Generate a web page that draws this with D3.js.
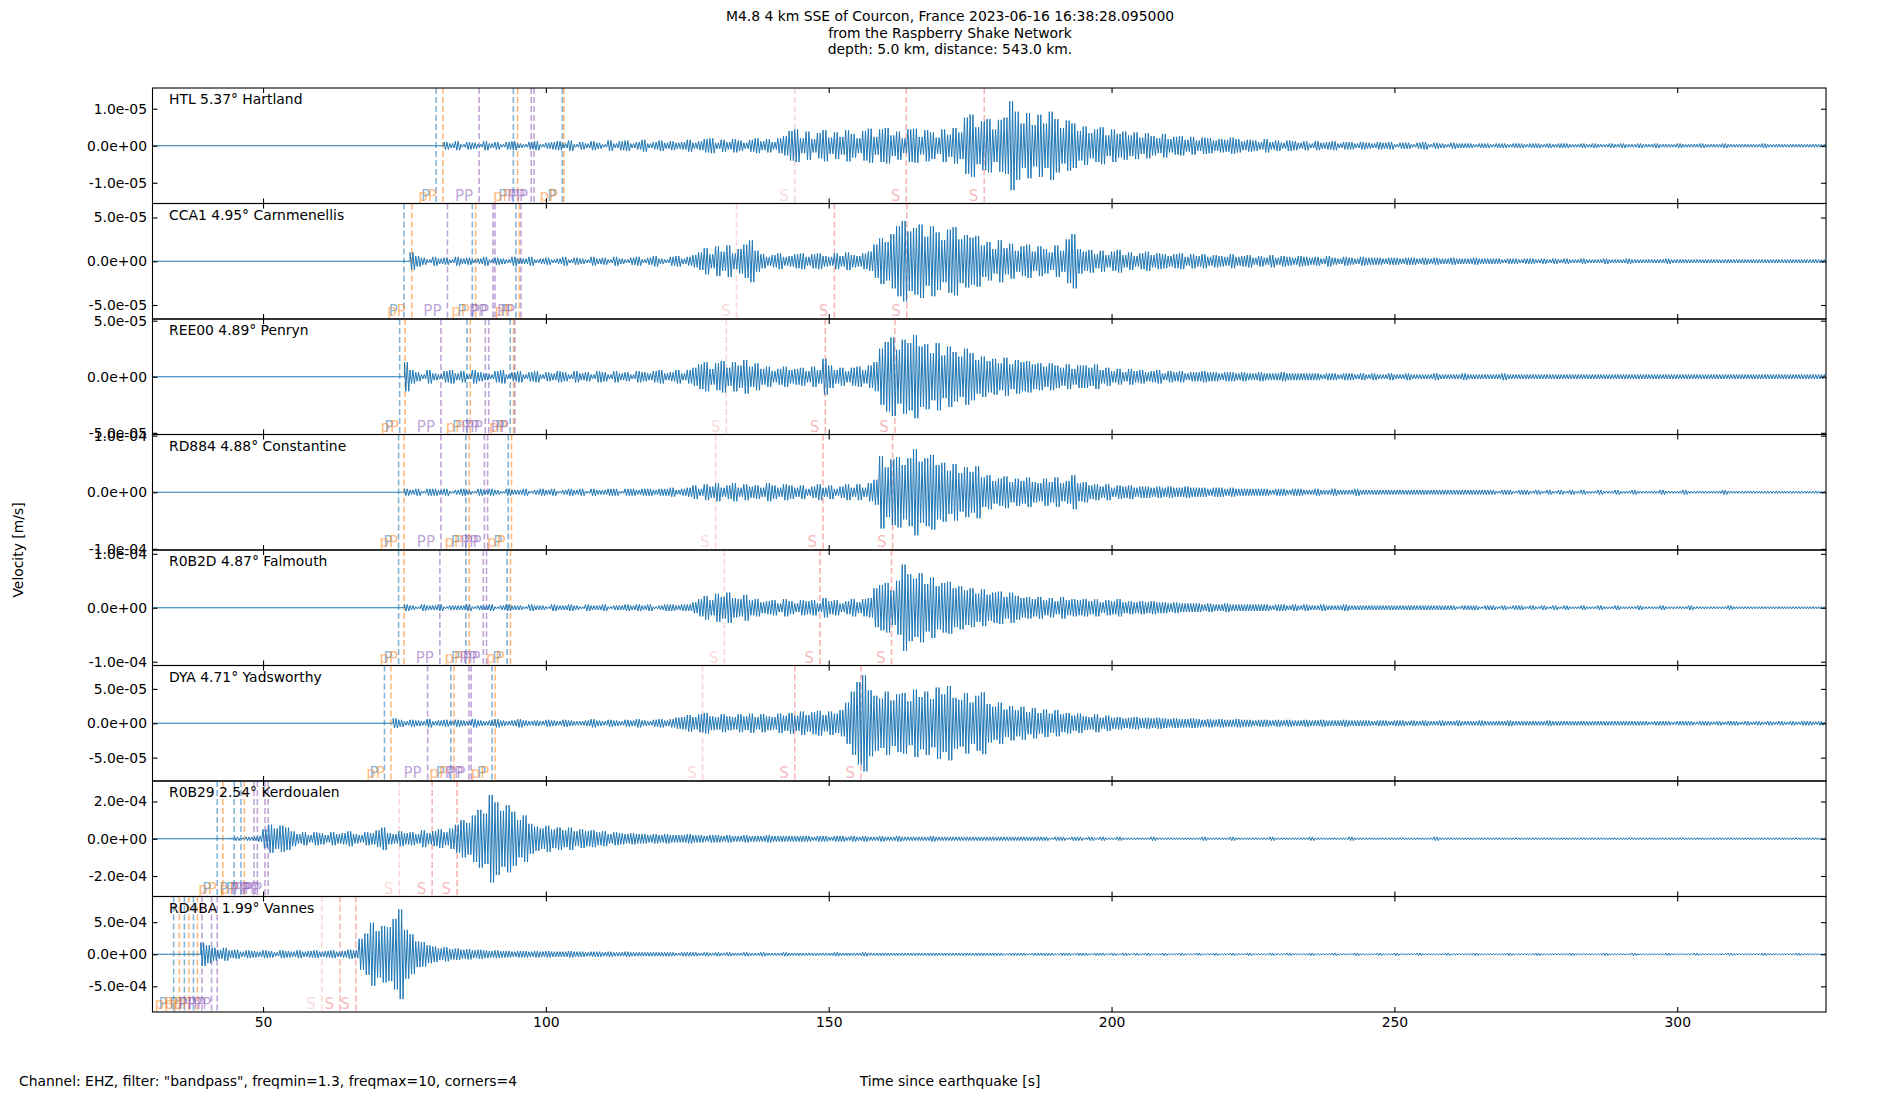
<!DOCTYPE html>
<html>
<head>
<meta charset="utf-8">
<script src="https://cdn.jsdelivr.net/npm/d3@7"></script>
<style>
	body { margin: 0; background: #fff; }
	svg text { font-family: "DejaVu Sans", sans-serif; }
</style>
</head>
<body>
<div id="chart"></div>
<script>

const titleLines = [
	"M4.8 4 km SSE of Courcon, France 2023-06-16 16:38:28.095000",
	"from the Raspberry Shake Network",
	"depth: 5.0 km, distance: 543.0 km."
];
const footNote = 'Channel: EHZ, filter: "bandpass", freqmin=1.3, freqmax=10, corners=4';

const stations = [
	"HTL 5.37° Hartland", "CCA1 4.95° Carnmenellis", "REE00 4.89° Penryn", "RD884 4.88° Constantine",
	"R0B2D 4.87° Falmouth", "DYA 4.71° Yadsworthy", "R0B29 2.54° Kerdoualen", "RD4BA 1.99° Vannes"
];

const timeRange = [30.46, 326.3];
const xTicks = [50, 100, 150, 200, 250, 300];

const yLimits = [1.56e-5, 6.6e-5, 5.15e-5, 1.02e-4, 1.07e-4, 8.4e-5, 3.1e-4, 9.0e-4];
const yTicks = [
	[-1e-5, 0, 1e-5], [-5e-5, 0, 5e-5], [-5e-5, 0, 5e-5], [-1e-4, 0, 1e-4],
	[-1e-4, 0, 1e-4], [-5e-5, 0, 5e-5], [-2e-4, 0, 2e-4], [-5e-4, 0, 5e-4]
];

// first second with signal, and size of one amplitude step (m/s)
const traceStart = [82, 76, 75, 75, 75, 73, 44, 39];
const ampUnit = [2e-7, 1e-6, 1e-6, 2e-6, 2e-6, 1e-6, 5e-6, 1e-5];

// peak amplitude per second, in ampUnit steps
const ampHTL = [
	5,3,6,2,5,4,2,6,3,5, 2,5,6,3,2,5,6,2,4,5, 6,3,7,2,5,3,6,4,2,7, 3,6,7,3,5,8,3,5,7,4,
	6,4,5,8,4,6,9,10,4,8, 5,9,7,4,8,10,6,9,5,10, 13,20,22,10,19,9,17,21,11,18, 12,21,16,10,20,23,12,22,24,14,
	19,10,22,23,12,21,18,11,22,15, 24,18,38,42,25,33,36,22,35,38, 60,46,30,44,28,42,30,46,36,24, 34,30,20,26,17,22,25,14,22,16,
	19,14,18,11,17,13,10,16,9,12, 13,8,12,7,11,10,7,9,8,11, 9,6,8,7,5,9,5,7,4,7, 6,4,6,3,6,4,5,6,3,5,
	5,3,5,4,3,5,4,5,2,4, 4,2,4,5,2,4,3,2,4,3, 3,3,2,3,3,2,3,3,2,3, 3,2,3,3,2,3,2,3,3,2,
	2,3,2,3,2,2,3,2,3,2, 2,3,2,2,3,2,2,2,3,2, 2,2,3,2,2,2,3,2,2,2, 2,2,2,3,2,2,2,2,2,2, 2,2,2,2,2,2
];
const ampCCA1 = [
	10,6,4,2,5,3,4,2,5,3, 4,2,3,5,2,4,3,2,5,3, 3,5,2,3,4,2,3,5,2,4, 3,2,5,3,4,2,5,3,2,4,
	5,2,4,6,3,2,5,6,3,5, 7,10,15,8,17,11,18,9,14,19, 24,12,8,5,7,9,5,6,8,9, 5,8,9,6,5,9,6,10,7,6,
	9,11,19,26,22,31,40,46,34,38, 42,28,40,33,24,36,39,25,30,27, 29,18,22,14,24,15,20,12,17,19, 11,17,14,10,18,12,25,31,14,11,
	13,8,12,7,11,13,7,10,6,9, 11,7,9,8,6,8,9,5,8,6, 8,5,7,6,5,8,5,6,7,4, 6,4,7,4,6,5,4,6,5,4,
	5,3,6,4,3,5,4,3,5,4, 4,4,3,4,4,3,4,4,3,4, 3,4,3,3,4,3,3,3,4,3, 3,3,3,2,3,3,2,3,3,2,
	3,2,3,2,3,2,2,3,2,2, 2,3,2,2,2,3,2,2,2,2, 2,2,3,2,2,2,2,2,2,2, 2,2,2,2,2,2,2,2,2,2, 2,2,2,2,2,2,2,2,2,2,2,2
];
const ampREE00 = [
	13,6,4,2,6,3,2,5,6,3, 5,2,6,4,3,2,5,6,2,4, 5,2,4,5,2,4,3,5,4,2, 5,3,4,2,5,4,2,5,3,4,
	2,5,4,3,5,6,3,4,6,3, 6,8,11,13,7,12,14,8,13,10, 15,9,12,7,9,5,7,9,6,7, 8,5,9,6,16,10,6,8,5,8,
	9,6,10,13,25,31,35,24,33,30, 37,27,29,21,30,19,27,22,18,25, 21,15,18,14,16,12,17,11,15,13, 14,11,12,9,12,10,8,11,7,10,
	10,8,11,6,8,5,7,4,7,5, 6,4,5,6,3,5,4,5,3,4, 4,5,4,4,3,4,4,3,4,3, 3,4,3,3,3,4,3,3,3,3,
	3,3,2,3,3,2,3,3,2,3, 2,3,2,2,3,2,2,3,2,2, 2,2,3,2,2,2,2,3,2,2, 2,2,2,2,3,2,2,2,2,2,
	2,2,2,2,2,2,2,2,2,2, 2,2,2,2,2,2,2,2,2,2, 2,2,2,2,2,2,2,2,2,2, 2,2,2,2,2,2,2,2,2,2, 2,2,2,2,2,2,2,2,2,2,2,2,2
];
const ampRD884 = [
	3,2,3,1,3,3,2,3,1,2, 3,2,1,3,2,3,2,1,3,2, 2,3,1,2,3,2,3,1,2,3, 2,3,1,3,2,2,3,3,1,3,
	3,2,3,3,2,3,3,4,2,3, 4,6,3,7,5,8,4,6,8,4, 7,5,6,4,8,6,4,7,6,4, 6,3,5,7,4,6,3,5,7,4,
	7,4,8,11,32,22,29,31,24,30, 38,27,30,33,24,26,19,25,17,22, 18,23,13,15,10,12,14,9,12,10, 13,9,8,12,9,13,8,10,15,8,
	9,6,7,5,7,4,6,5,6,4, 5,5,4,5,4,5,4,4,5,4, 4,4,3,4,4,3,4,3,3,3, 3,3,3,2,3,3,2,3,3,2,
	2,3,2,2,3,2,2,2,3,2, 2,2,2,2,2,2,2,2,2,2, 2,2,2,2,2,2,2,2,2,2, 2,2,2,1,2,2,1,2,2,1,
	2,1,2,1,2,1,2,1,2,1, 1,2,1,1,2,1,1,2,1,1, 1,1,2,1,1,1,2,1,1,1, 1,1,1,2,1,1,1,1,1,1, 1,1,1,1,1,1,1,1,1,1,1,1,1
];
const ampR0B2D = [
	3,2,1,3,2,2,3,1,2,2, 2,3,1,2,2,3,1,2,3,2, 2,1,3,2,2,1,3,2,2,3, 2,1,3,2,2,3,1,2,2,3,
	2,3,2,3,1,2,3,3,2,3, 3,5,8,11,7,13,10,14,9,8, 12,7,8,5,6,7,4,8,6,4, 7,6,7,4,9,6,7,4,6,8,
	5,8,9,18,21,23,16,25,40,31, 27,32,22,28,20,23,24,18,20,16, 18,13,17,12,14,15,10,14,11,9, 10,8,10,7,9,6,10,7,8,7,
	8,6,8,5,7,6,8,5,6,5, 6,5,6,5,5,4,5,4,4,4, 4,3,4,3,3,4,3,3,3,3, 3,3,3,2,3,3,2,3,2,3,
	2,2,3,2,2,2,3,2,2,2, 2,2,2,2,2,2,2,2,2,2, 2,2,2,2,2,2,1,2,2,2, 1,2,2,1,2,1,2,2,1,2,
	1,2,1,2,1,2,1,1,2,1, 1,2,1,1,2,1,1,1,2,1, 1,1,2,1,1,1,1,2,1,1, 1,1,1,1,2,1,1,1,1,1, 1,1,1,1,1,1,1,1,1,1,1,1,1
];
const ampDYA = [
	7,5,3,5,4,3,6,3,4,5, 3,5,4,3,6,4,3,4,6,4, 3,4,6,4,3,4,3,5,4,3, 5,4,3,3,4,6,4,3,5,4,
	3,5,4,6,4,3,5,6,4,6, 8,9,12,9,13,15,10,9,13,10, 9,13,10,14,9,13,10,9,14,11, 15,11,17,12,16,18,12,17,14,19,
	30,46,60,70,48,40,36,46,33,42, 44,32,49,38,46,35,52,42,54,37, 34,44,30,40,45,28,24,30,20,25, 19,24,16,22,15,20,14,19,13,15,
	11,14,10,9,13,8,11,8,9,7, 8,9,7,8,7,8,7,6,7,6, 6,7,6,5,6,5,6,5,5,6, 5,5,4,5,5,4,5,4,5,4,
	4,5,4,4,5,4,4,4,5,4, 4,4,4,3,4,4,3,4,4,3, 4,3,4,3,3,4,3,3,4,3, 3,3,4,3,3,3,3,4,3,3,
	3,3,3,3,4,3,3,3,3,3, 3,3,3,3,3,3,3,3,3,3, 3,3,2,3,3,3,2,3,3,3, 2,3,3,2,3,2,3,3,2,3, 2,3,2,3,2,3,2,3,2,3, 3,2,3,2,3
];
const ampR0B29 = [
	1,2,1,2,2,3,10,15,11,14, 12,8,5,7,4,7,6,4,7,5, 6,8,5,4,7,6,9,12,6,5, 8,6,7,5,9,6,8,10,7,11,
	15,20,17,25,31,27,47,39,30,36, 29,20,25,16,13,11,14,10,12,9, 12,8,10,8,9,7,8,5,7,6, 5,6,5,5,4,5,4,5,4,4,
	4,5,4,4,3,4,4,3,4,3, 3,4,3,3,3,4,3,3,3,3, 3,3,3,2,3,3,2,3,3,2, 3,2,3,2,2,3,2,2,3,2,
	2,2,2,2,3,2,2,2,2,2, 2,2,2,2,2,2,2,2,2,2, 2,2,2,2,2,1,2,2,1,2, 2,1,2,1,2,1,1,2,1,1,
	1,1,1,2,1,1,1,1,1,1, 1,1,2,1,1,1,1,2,1,1, 1,1,1,1,2,1,1,1,1,1, 1,2,1,1,1,1,1,1,2,1,
	1,1,1,1,1,1,1,1,1,1, 1,1,1,2,1,1,1,1,1,1, 1,1,1,1,1,1,1,1,1,1, 1,1,1,1,1,1,1,1,1,1,
	1,1,1,1,1,1,1,1,1,1, 1,1,1,1,1,1,1,1,1,1, 1,1,1,1,1,1,1,1,1,1, 1,1,1,1,1,1,1,1,1,1,1,1,1,1
];
const ampRD4BA = [
	18,14,10,7,10,6,7,4,6,5, 4,6,5,3,6,5,4,6,4,5, 6,4,5,6,4,5,7,6,24,32, 49,36,44,42,55,70,38,31,20,19,
	14,12,9,11,8,9,7,8,6,7, 6,5,6,5,5,4,5,5,4,5, 4,5,4,4,4,5,4,4,3,4, 4,3,4,3,3,4,3,3,3,3,
	3,3,3,3,2,3,3,3,2,3, 2,3,2,3,2,2,3,2,2,3, 2,2,2,3,2,2,2,2,2,2, 2,2,3,2,2,2,2,3,2,2,
	2,2,2,2,2,2,2,2,2,2, 2,2,2,2,2,2,2,2,2,2, 2,2,1,2,2,2,1,2,2,2, 2,1,2,2,1,2,2,1,2,2,
	1,2,1,2,1,2,1,2,1,1, 2,1,1,2,1,1,2,1,1,2, 1,1,2,1,1,2,1,1,1,2, 1,1,2,1,1,1,2,1,1,1,
	2,1,1,1,2,1,1,1,2,1, 1,2,1,1,1,2,1,1,1,1, 2,1,1,1,1,2,1,1,1,1, 1,2,1,1,1,1,2,1,1,1,
	1,1,2,1,1,1,1,1,2,1, 1,1,1,2,1,1,1,1,1,2, 1,1,1,1,2,1,1,1,1,1, 2,1,1,1,1,1,2,1,1,1, 1,1,2,1,1,1,1,1,1,1
];
const amplitudes = [ampHTL, ampCCA1, ampREE00, ampRD884, ampR0B2D, ampDYA, ampR0B29, ampRD4BA];

// theoretical arrival times (s) per station
const pTimes = [
	[80.6, 94.25, 102.9], [74.9, 87.0, 94.7], [74.15, 86.06, 93.7], [73.96, 85.86, 93.35],
	[73.96, 85.86, 93.16], [71.47, 83.2, 90.5], [41.9, 44.9, 46.1], [34.2, 36.1, 37.7]
];
const pPTimes = [
	[81.8, 95.0, 103.2], [76.3, 87.6, 95.3], [75.1, 86.63, 94.3], [74.92, 86.44, 93.93],
	[74.92, 86.44, 93.74], [72.6, 83.75, 91.05], [42.9, 46.7], [35.2, 36.9, 38.4]
];
const ppTimes = [
	[88.2, 97.4, 97.9], [82.6, 90.65, 91.0, 95.6], [81.45, 89.3, 89.9, 94.5], [81.45, 89.13, 89.7],
	[81.26, 88.94, 89.51], [79.1, 86.4, 86.8], [48.4, 49.0, 50.35, 50.9], [39.2, 40.9, 41.9]
];
const sTimes = [
	[144.0, 163.7, 163.7, 177.5, 177.5], [133.7, 151.0, 151.0, 163.8, 163.8],
	[131.9, 149.4, 149.4, 161.7, 161.7], [130.0, 149.0, 149.0, 161.3, 161.3],
	[131.55, 148.45, 148.45, 161.1, 161.1], [127.7, 144.0, 144.0, 155.7, 155.7],
	[74.1, 79.9, 79.9, 84.3, 84.3], [60.4, 63.6, 63.6, 66.4, 66.4]
];

// ---- drawing ----

const W = 1900, H = 1100;
const plot = { left: 152.5, right: 1826, top: 88, bottom: 1012 };
const panelH = (plot.bottom - plot.top) / stations.length;
const traceColor = "#1f77b4";
const swingsPerSecond = 2;

const phaseSets = [
	{ times: pTimes, label: "P", color: "#1f77b4", alpha: 0.55 },
	{ times: pPTimes, label: "pP", color: "#ff7f0e", alpha: 0.55 },
	{ times: ppTimes, label: "PP", color: "#9467bd", alpha: 0.6 },
	{ times: sTimes, label: "S", color: "#e8474a", alpha: 0.22 }
];

const svg = d3.select("#chart").append("svg")
	.attr("width", W)
	.attr("height", H)
	.style("display", "block");

svg.append("rect").attr("width", W).attr("height", H).attr("fill", "#fff");

const x = d3.scaleLinear().domain(timeRange).range([plot.left, plot.right]);

// matplotlib style "%.1e"
const sci = v => v.toExponential(1).replace(/e([+-])(\d)$/, "e$10$2");

const line = d3.line();

stations.forEach((name, i) => {
	let g = svg.append("g")
		.attr("transform", "translate(0," + (plot.top + i * panelH) + ")");

	let y = d3.scaleLinear()
		.domain([-yLimits[i], yLimits[i]])
		.range([panelH, 0]);

	g.append("clipPath")
		.attr("id", "clip" + i)
		.append("rect")
		.attr("x", plot.left)
		.attr("y", 0)
		.attr("width", plot.right - plot.left)
		.attr("height", panelH);

	let inner = g.append("g").attr("clip-path", "url(#clip" + i + ")");

	// phase arrivals
	phaseSets.forEach(ps => {
		let times = ps.times[i];
		inner.selectAll(null)
			.data(times)
			.enter()
			.append("line")
			.attr("x1", d => x(d))
			.attr("x2", d => x(d))
			.attr("y1", 0)
			.attr("y2", panelH)
			.attr("stroke", ps.color)
			.attr("stroke-opacity", ps.alpha)
			.attr("stroke-width", 1.6)
			.attr("stroke-dasharray", "6,3");

		inner.selectAll(null)
			.data(times)
			.enter()
			.append("text")
			.attr("x", d => x(d) - 6)
			.attr("y", panelH - 3)
			.attr("text-anchor", "end")
			.attr("font-size", 15)
			.attr("fill", ps.color)
			.attr("fill-opacity", ps.alpha)
			.text(ps.label);
	});

	// trace: flat before the signal, then each second's peak drawn as a dense up/down swing
	let amps = amplitudes[i];
	let t0 = traceStart[i];
	let step = 0.5 / swingsPerSecond;
	let pts = [[timeRange[0], 0], [t0, 0]];
	amps.forEach((a, k) => {
		for (let s = 0; s < swingsPerSecond; s++) {
			pts.push([t0 + k + 2 * s * step, a * ampUnit[i]]);
			pts.push([t0 + k + (2 * s + 1) * step, -a * ampUnit[i]]);
		}
	});

	inner.append("path")
		.attr("d", line(pts.map(p => [x(p[0]), y(p[1])])))
		.attr("fill", "none")
		.attr("stroke", traceColor)
		.attr("stroke-width", 1)
		.attr("stroke-linejoin", "miter");

	// inward ticks on all four sides
	let axes = [
		d3.axisTop(x).tickValues(xTicks).tickSize(-5).tickSizeOuter(0).tickFormat(""),
		d3.axisBottom(x).tickValues(xTicks).tickSize(-5).tickSizeOuter(0).tickPadding(5)
			.tickFormat(i === stations.length - 1 ? d3.format("d") : ""),
		d3.axisLeft(y).tickValues(yTicks[i]).tickSize(-5).tickSizeOuter(0).tickPadding(5.5).tickFormat(sci),
		d3.axisRight(y).tickValues(yTicks[i]).tickSize(-5).tickSizeOuter(0).tickFormat("")
	];
	let shifts = ["translate(0,0)", "translate(0," + panelH + ")",
		"translate(" + plot.left + ",0)", "translate(" + plot.right + ",0)"];

	axes.forEach((ax, k) => {
		let a = g.append("g")
			.attr("transform", shifts[k])
			.call(ax);
		a.select(".domain").remove();
		a.selectAll("line").attr("stroke", "#000").attr("stroke-width", 1.1);
		a.attr("font-size", 13.9).attr("font-family", "DejaVu Sans, sans-serif");
		a.selectAll("text").attr("fill", "#000");
	});

	// frame
	g.append("rect")
		.attr("x", plot.left)
		.attr("y", 0)
		.attr("width", plot.right - plot.left)
		.attr("height", panelH)
		.attr("fill", "none")
		.attr("stroke", "#000")
		.attr("stroke-width", 1.1);

	g.append("text")
		.attr("x", 169)
		.attr("y", 16)
		.attr("font-size", 13.9)
		.attr("fill", "#000")
		.text(name);
});

// titles and labels
svg.append("g")
	.selectAll("text")
	.data(titleLines)
	.enter()
	.append("text")
	.attr("x", 950)
	.attr("y", (d, k) => 21 + k * 16.5)
	.attr("text-anchor", "middle")
	.attr("font-size", 13.9)
	.text(d => d);

svg.append("text")
	.attr("transform", "translate(23,550) rotate(-90)")
	.attr("text-anchor", "middle")
	.attr("font-size", 13.9)
	.text("Velocity [m/s]");

svg.append("text")
	.attr("x", 950)
	.attr("y", 1086)
	.attr("text-anchor", "middle")
	.attr("font-size", 13.9)
	.text("Time since earthquake [s]");

svg.append("text")
	.attr("x", 19)
	.attr("y", 1086)
	.attr("font-size", 13.9)
	.text(footNote);

</script>
</body>
</html>
